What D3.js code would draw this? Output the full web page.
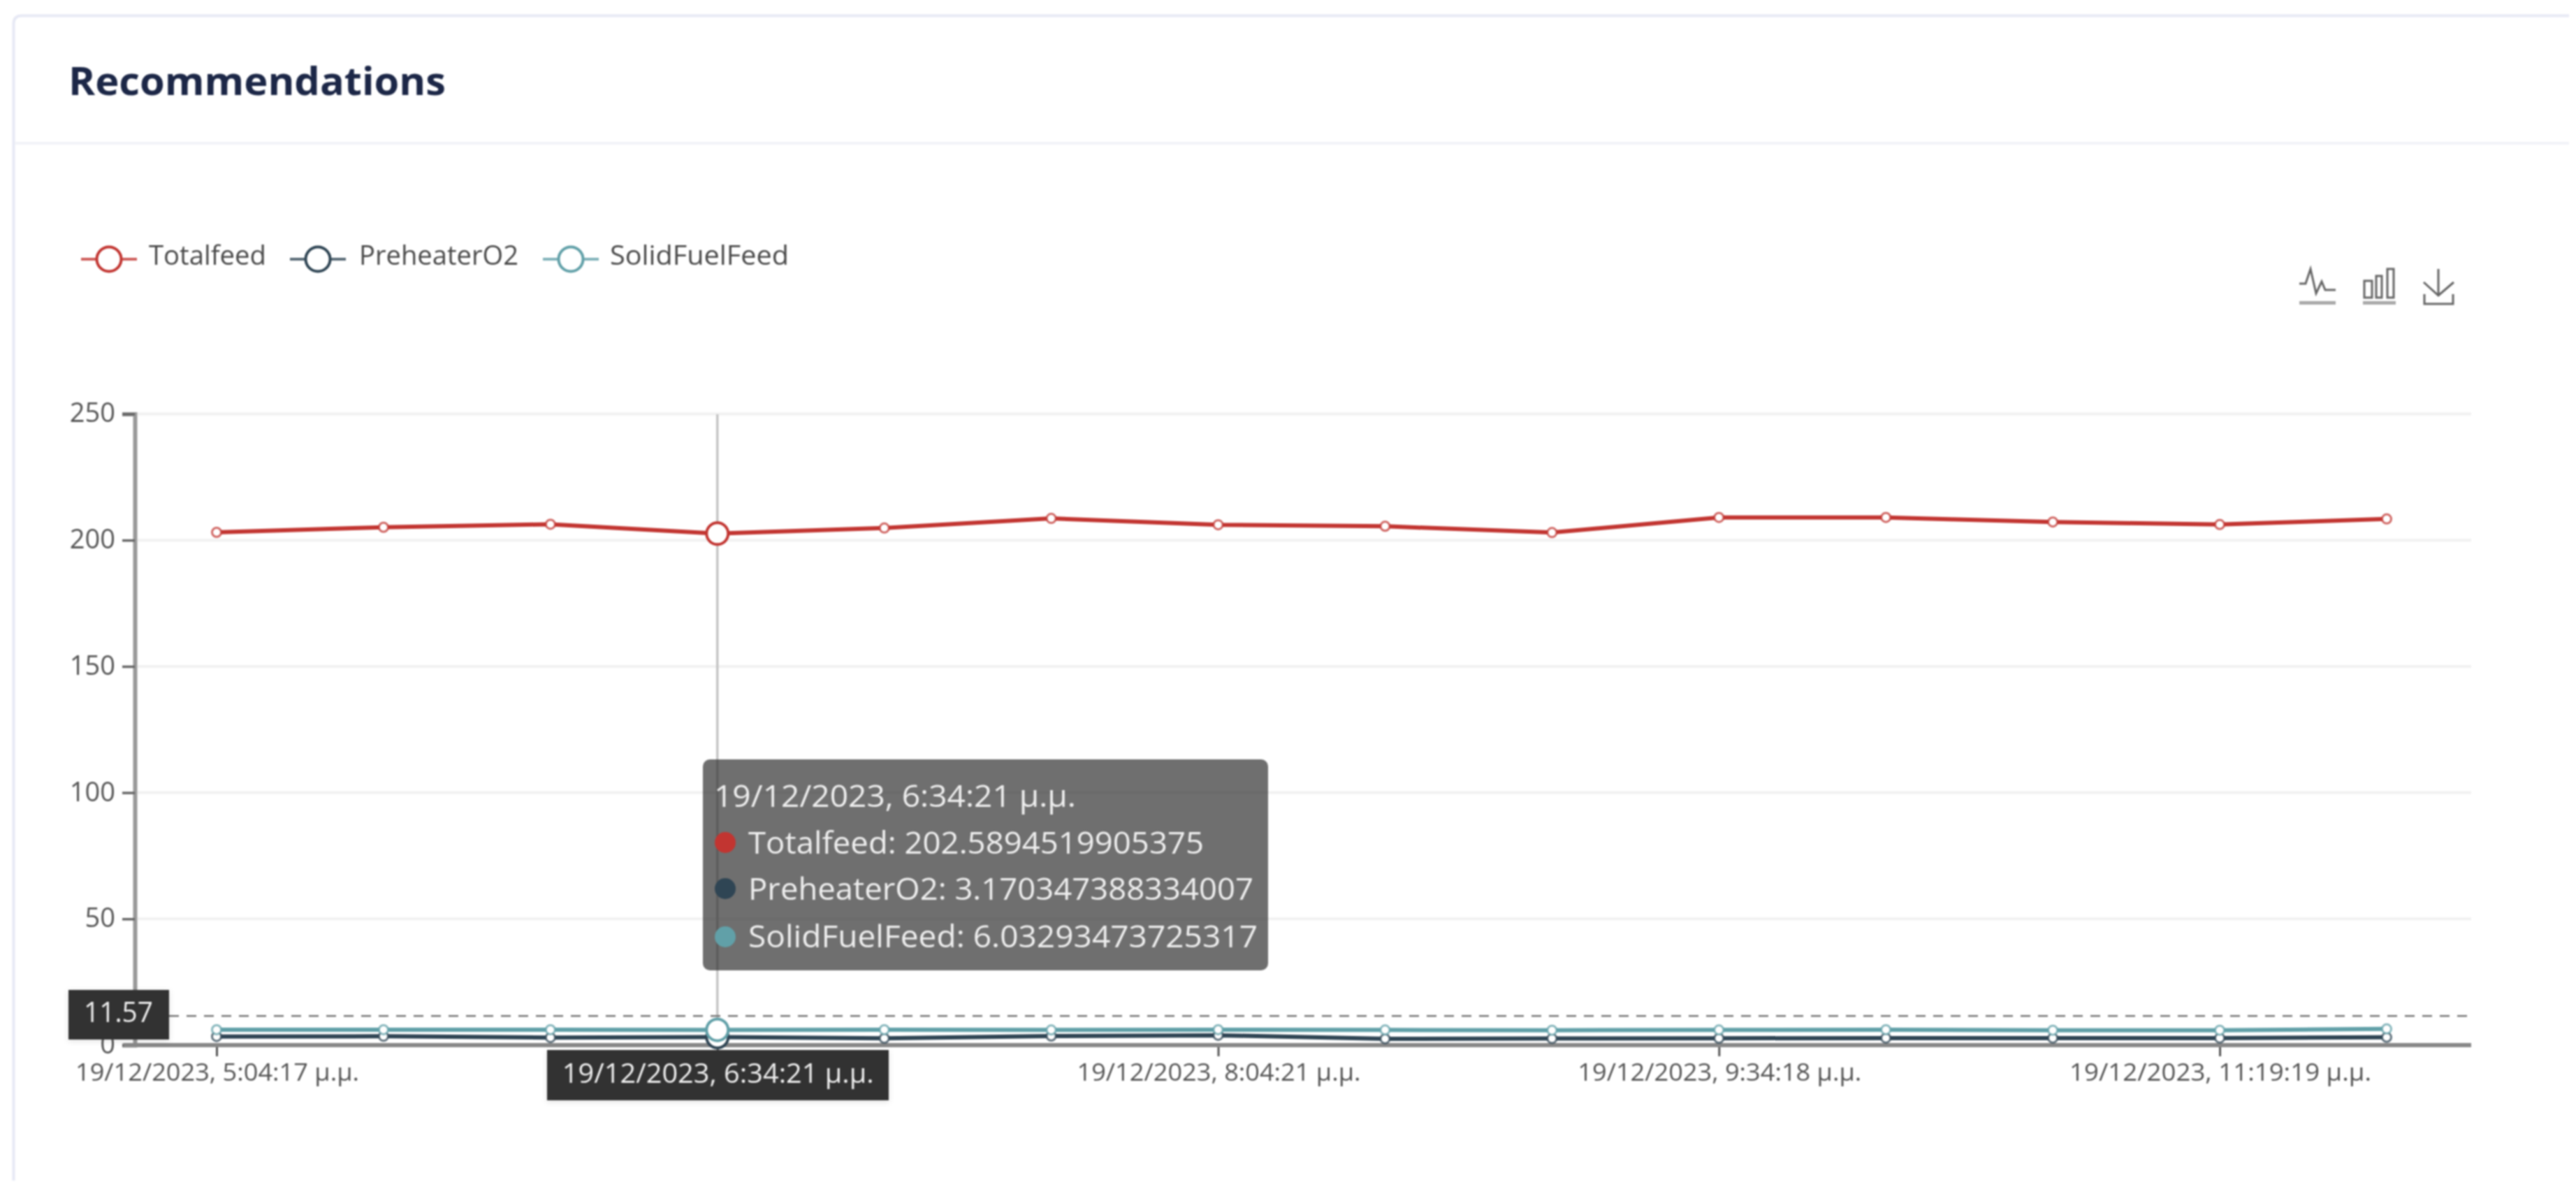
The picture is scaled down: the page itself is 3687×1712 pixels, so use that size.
<!DOCTYPE html>
<html><head><meta charset="utf-8">
<style>
html,body{margin:0;padding:0;background:#fff;overflow:hidden}
svg{display:block;filter:blur(1px)}
text{font-family:"Open Sans",sans-serif}
</style>
<script src="https://cdn.jsdelivr.net/npm/d3@7"></script>
</head><body>
<svg id="c" width="3687" height="1712" viewBox="0 0 3687 1712"></svg>
<script>
const titleText = "Recommendations";
const categories = ["5:04:17","5:34:19","6:04:20","6:34:21","7:04:20","7:34:20","8:04:21","8:34:19","9:04:20","9:34:18","10:19:18","10:49:19","11:19:19","11:49:18"];
const totalfeed = [203.1,205.1,206.3,202.59,204.8,208.6,206.1,205.5,203.0,209.0,209.0,207.2,206.2,208.4];
const preheaterO2 = [3.4,3.5,3.0,3.17,2.7,3.6,3.9,2.5,2.6,2.7,2.8,2.8,2.8,3.1];
const solidFuelFeed = [6.1,6.1,6.1,6.03,6.1,6.0,6.1,6.0,5.9,6.0,6.1,5.9,5.9,6.4];
const seriesNames = ["Totalfeed","PreheaterO2","SolidFuelFeed"];
const seriesColors = ["#c23531","#2f4554","#61a0a8"];
const yTicks = [0,50,100,150,200,250];
const xTickEvery = 3;
const xLabels = ["19/12/2023, 5:04:17 µ.µ.","","19/12/2023, 8:04:21 µ.µ.","19/12/2023, 9:34:18 µ.µ.","19/12/2023, 11:19:19 µ.µ."];
const hoverIndex = 3;
const hoverLabel = "19/12/2023, 6:34:21 µ.µ.";
const hoverY = 11.57;
const tooltipRows = ["Totalfeed: 202.5894519905375","PreheaterO2: 3.170347388334007","SolidFuelFeed: 6.03293473725317"];

const svg = d3.select("#c");
const series = [totalfeed, preheaterO2, solidFuelFeed];
const x = d3.scalePoint().domain(d3.range(categories.length)).range([310,3416]);
const y = d3.scaleLinear().domain([0,250]).range([1496,592.5]);
const plotL = 193, plotR = 3537;

function txt(g,px,py,s,size,fill,anchor,w,weight){
  const t = g.append("text").attr("x",px).attr("y",py).text(s)
    .attr("font-size",size).attr("fill",fill).attr("text-anchor",anchor||"start");
  if(weight) t.attr("font-weight",weight);
  if(w) t.attr("textLength",w).attr("lengthAdjust","spacingAndGlyphs");
  return t;
}

// card
svg.append("rect").attr("width",3687).attr("height",1712).attr("fill","#fff");
svg.append("path").attr("d","M19.5 1690V34Q19.5 22.5 31 22.5H3677").attr("fill","none").attr("stroke","#e7e9f5").attr("stroke-width",4);
svg.append("rect").attr("x",21).attr("y",203).attr("width",3656).attr("height",4).attr("fill","#f2f3f8");
txt(svg,98,136,titleText,56,"#1c2747","start",540,"700");

// legend
const legendCx = [156,455,817], legendTx = [213,514,873], legendTw = [168,228,256];
seriesNames.forEach((n,i)=>{
  const g = svg.append("g");
  g.append("line").attr("x1",legendCx[i]-40).attr("x2",legendCx[i]+40).attr("y1",371).attr("y2",371)
    .attr("stroke",seriesColors[i]).attr("stroke-width",4).attr("opacity",.8);
  g.append("circle").attr("cx",legendCx[i]).attr("cy",371).attr("r",17.5)
    .attr("fill","#fff").attr("stroke",seriesColors[i]).attr("stroke-width",4);
  txt(g,legendTx[i],379,n,38,"#4a4a4a","start",legendTw[i]);
});

// toolbox
const tb = svg.append("g").attr("fill","none").attr("stroke","#666").attr("stroke-width",3);
tb.append("path").attr("d","M3291 406H3300L3307 385L3315 420L3323 403L3328 415H3343");
tb.append("path").attr("d","M3291 433.5H3343M3382 433.5H3429").attr("stroke","#aaa").attr("stroke-width",5);
tb.append("path").attr("d","M3384 402H3395V426H3384ZM3401 395H3409V426H3401ZM3417 385H3426V426H3417Z");
tb.append("path").attr("d","M3490 385V423M3469 404L3490 423L3512 404M3470 421V435H3511V421");

// grid
yTicks.filter(d=>d>0).forEach(d=>{
  svg.append("line").attr("x1",197).attr("x2",plotR).attr("y1",y(d)).attr("y2",y(d))
    .attr("stroke","#f1f1f1").attr("stroke-width",4);
});

// axes
const yAxisG = svg.append("g").attr("transform",`translate(${plotL},0)`)
  .call(d3.axisLeft(y).tickValues(yTicks).tickSize(18).tickPadding(10));
yAxisG.select(".domain").attr("stroke","#999").attr("stroke-width",6);
yAxisG.selectAll(".tick line").attr("stroke","#666").attr("stroke-width",3.5);
yAxisG.selectAll(".tick text").attr("font-size",38).attr("fill","#555").attr("font-family",'"Open Sans",sans-serif')
  .attr("dy","0.3em").attr("x",-28);

const xTickIdx = d3.range(0,categories.length,xTickEvery);
const xAxisG = svg.append("g").attr("transform",`translate(0,${y(0)})`)
  .call(d3.axisBottom(x).tickValues(xTickIdx).tickSize(16).tickFormat(""));
xAxisG.select(".domain").remove();
xAxisG.selectAll(".tick line").attr("stroke","#555").attr("stroke-width",3);
svg.append("line").attr("x1",plotL-16).attr("x2",plotR).attr("y1",y(0)).attr("y2",y(0)).attr("stroke","#888").attr("stroke-width",6);
xTickIdx.forEach((idx,k)=>{
  if(xLabels[k]) txt(svg,x(idx)+1,1547,xLabels[k],35,"#555","middle",k===4?432:406);
});

// crosshair
svg.append("line").attr("x1",x(hoverIndex)).attr("x2",x(hoverIndex)).attr("y1",593).attr("y2",y(0))
  .attr("stroke","#c4c4c4").attr("stroke-width",3.5);
svg.append("line").attr("x1",242).attr("x2",plotR).attr("y1",y(hoverY)).attr("y2",y(hoverY))
  .attr("stroke","#777").attr("stroke-width",2.5).attr("stroke-dasharray","14 11");

// series
const line = d3.line().x((d,i)=>x(i)).y(d=>y(d));
series.forEach((vals,s)=>{
  const g = svg.append("g");
  g.append("path").datum(vals).attr("d",line).attr("fill","none").attr("stroke",seriesColors[s]).attr("stroke-width",6);
  g.selectAll("circle").data(vals).join("circle")
    .attr("cx",(d,i)=>x(i)).attr("cy",d=>y(d))
    .attr("r",(d,i)=>i===hoverIndex?15.5:6.5)
    .attr("fill","#fff").attr("stroke",seriesColors[s])
    .attr("stroke-width",(d,i)=>i===hoverIndex?4:3)
    .attr("stroke-opacity",(d,i)=>i===hoverIndex?1:.75);
});

// pointer labels
const shadow = svg.append("defs").append("filter").attr("id","sh").attr("x","-10%").attr("y","-20%").attr("width","120%").attr("height","140%");
shadow.append("feDropShadow").attr("dx",0).attr("dy",2).attr("stdDeviation",4).attr("flood-opacity",.12);
svg.append("rect").attr("x",98).attr("y",1417).attr("width",144).attr("height",71).attr("fill","#333").attr("filter","url(#sh)");
txt(svg,169.5,1463,String(hoverY),40,"#eee","middle",99);
svg.append("rect").attr("x",783).attr("y",1503).attr("width",489).attr("height",72).attr("fill","#333").attr("filter","url(#sh)");
txt(svg,x(hoverIndex)+1,1550,hoverLabel,38,"#eee","middle",446);

// tooltip
const tip = svg.append("g");
tip.append("rect").attr("x",1006).attr("y",1087).attr("width",809).attr("height",302).attr("rx",10)
  .attr("fill","rgba(50,50,50,0.7)");
txt(tip,1022,1155,hoverLabel,43,"#eee","start",518);
const rowBase = [1222,1288,1356], rowDot = [1206,1272,1341], rowW = [652,723,729];
tooltipRows.forEach((r,i)=>{
  tip.append("circle").attr("cx",1038).attr("cy",rowDot[i]).attr("r",15).attr("fill",seriesColors[i]);
  txt(tip,1071,rowBase[i],r,43,"#eee","start",rowW[i]);
});
</script>
</body></html>
